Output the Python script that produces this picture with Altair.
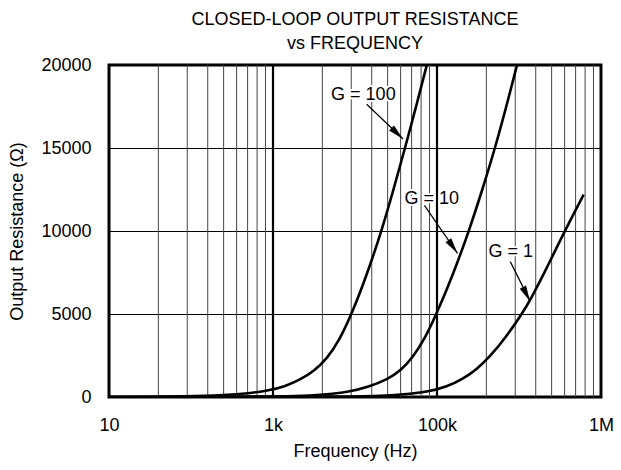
import altair as alt
import pandas as pd

# ---- data (x in drawn-axis units; tick labels mapped below) ----
g100_f = [1000, 1995, 3981, 6310, 9268, 11749, 14655, 17783, 21330, 25119, 30200,
          37154, 45920, 54325, 63826, 74131, 86696]
g100_r = [1, 13, 58, 160, 371, 625, 1050, 1560, 2320, 3330, 5000,
          7300, 10000, 12500, 15000, 17400, 20000]

g10_f = [1000, 7943, 14125, 19953, 29512, 38019, 50119, 60256, 70795, 83176, 99312,
         124451, 156675, 189234, 225944, 264850, 307610]
g10_r = [1, 12, 50, 125, 320, 600, 1066, 1600, 2365, 3400, 5000,
         7300, 10000, 12500, 15000, 17500, 20000]

g1_f = [1000, 10000, 31623, 56234, 89743, 114815, 142889, 173780, 208930, 263027, 329610,
        380189, 441570, 518800, 601174, 783430]
g1_r = [1, 3, 20, 100, 311, 620, 1066, 1650, 2400, 3600, 5000,
        6050, 7300, 8700, 10000, 12186]

x_tick_values = [1000, 10000, 100000, 1000000]
x_tick_labels = ["10", "1k", "100k", "1M"]
y_tick_values = [0, 5000, 10000, 15000, 20000]

major_x = [10000, 100000]
minor_x = [k * d for d in [1000, 10000, 100000] for k in range(2, 10)]

ann_text = ["G = 100", "G = 10", "G = 1"]
ann_tx = [35560, 92900, 281800]
ann_ty = [18186, 11946, 8713]
arr_x1 = [37240, 83800, 279900]
arr_y1 = [17634, 11545, 8156]
arr_x2 = [62090, 133400, 369800]
arr_y2 = [15539, 8653, 5760]
arr_angle = [134, 145, 153]

FONT = "Liberation Sans"

curves = pd.concat([
    pd.DataFrame({"f": g100_f, "r": g100_r, "g": "G = 100"}),
    pd.DataFrame({"f": g10_f, "r": g10_r, "g": "G = 10"}),
    pd.DataFrame({"f": g1_f, "r": g1_r, "g": "G = 1"}),
])

xscale = alt.Scale(type="log", domain=[1000, 1000000], nice=False)
yscale = alt.Scale(domain=[0, 20000], nice=False)

label_expr = " : ".join(
    [f"datum.value == {v} ? '{l}'" for v, l in zip(x_tick_values[:-1], x_tick_labels[:-1])]
) + f" : '{x_tick_labels[-1]}'"

xaxis = alt.Axis(values=x_tick_values, labelExpr=label_expr, title="Frequency (Hz)",
                 grid=False, ticks=False, domain=False, labelPadding=19, titlePadding=8,
                 labelFontSize=18, titleFontSize=18, labelFont=FONT, titleFont=FONT,
                 titleFontWeight="normal", labelColor="black", titleColor="black",
                 labelFlush=False, labelOverlap=False)
yaxis = alt.Axis(values=y_tick_values, format="d", title="Output Resistance (Ω)", grid=True,
                 gridColor="black", gridWidth=1, gridOpacity=1, ticks=False, domain=False,
                 labelPadding=18, titlePadding=14, labelFontSize=18, titleFontSize=18,
                 labelFont=FONT, titleFont=FONT, titleFontWeight="normal",
                 labelColor="black", titleColor="black", labelOverlap=False)

base_axes = alt.Chart(pd.DataFrame({"f": [1000], "r": [0]})).mark_point(opacity=0).encode(
    x=alt.X("f:Q", scale=xscale, axis=xaxis),
    y=alt.Y("r:Q", scale=yscale, axis=yaxis),
)

minor = alt.Chart(pd.DataFrame({"f": minor_x})).mark_rule(color="#444444", strokeWidth=1).encode(
    x=alt.X("f:Q", scale=xscale))
major = alt.Chart(pd.DataFrame({"f": major_x})).mark_rule(color="black", strokeWidth=2.2).encode(
    x=alt.X("f:Q", scale=xscale))

lines = alt.Chart(curves).mark_line(color="black", strokeWidth=2.6, interpolate="basis",
                                    clip=True).encode(
    x=alt.X("f:Q", scale=xscale),
    y=alt.Y("r:Q", scale=yscale),
    detail="g:N",
)

ann = pd.DataFrame({"t": ann_text, "tx": ann_tx, "ty": ann_ty, "x1": arr_x1, "y1": arr_y1,
                    "x2": arr_x2, "y2": arr_y2, "a": arr_angle})

ann_bg = alt.Chart(ann).mark_text(font=FONT, fontSize=18, color="white", stroke="white",
                                  strokeWidth=4).encode(
    x=alt.X("tx:Q", scale=xscale), y=alt.Y("ty:Q", scale=yscale), text="t:N")
ann_txt = alt.Chart(ann).mark_text(font=FONT, fontSize=18, color="black").encode(
    x=alt.X("tx:Q", scale=xscale), y=alt.Y("ty:Q", scale=yscale), text="t:N")
arrows = alt.Chart(ann).mark_rule(color="black", strokeWidth=1.2).encode(
    x=alt.X("x1:Q", scale=xscale), y=alt.Y("y1:Q", scale=yscale),
    x2="x2:Q", y2="y2:Q")
heads = alt.Chart(ann).mark_point(shape="M0,0 L0.22,1 L-0.22,1 Z", filled=True, color="black",
                                  size=1024, opacity=1).encode(
    x=alt.X("x2:Q", scale=xscale), y=alt.Y("y2:Q", scale=yscale),
    angle=alt.Angle("a:Q", scale=None))

chart = alt.layer(base_axes, minor, major, lines, ann_bg, ann_txt, arrows, heads).properties(
    width=492, height=332,
    title=alt.TitleParams(["CLOSED-LOOP OUTPUT RESISTANCE", "vs FREQUENCY"], font=FONT,
                          fontSize=18, fontWeight="normal", color="black", lineHeight=24,
                          offset=3),
    padding={"left": 101, "top": 57, "right": 12, "bottom": 65},
    autosize=alt.AutoSizeParams(type="none"),
).configure_view(stroke="black", strokeWidth=3)

chart.save("out.html", embed_options={"renderer": "svg", "actions": False})
